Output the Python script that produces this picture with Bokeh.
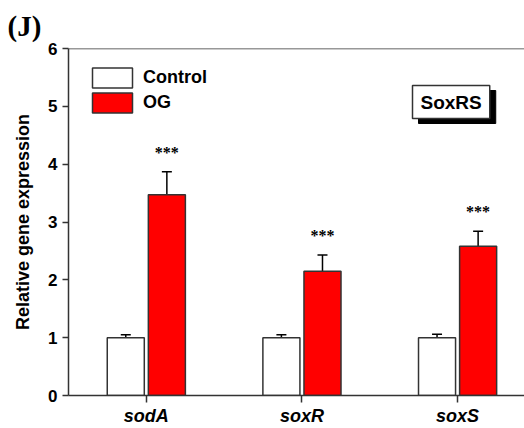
from bokeh.plotting import figure
from bokeh.models import (ColumnDataSource, Whisker, Label, Span, Legend, LegendItem,
                          FixedTicker, Range1d)
from bokeh.embed import file_html
from bokeh.resources import INLINE

# Relative expression of SoxRS regulon genes
genes = ["sodA", "soxR", "soxS"]
control_mean = [1.0, 1.0, 1.0]
control_err = [0.05, 0.05, 0.06]
og_mean = [3.47, 2.15, 2.58]
og_err = [0.40, 0.28, 0.26]
stars = ["***", "***", "***"]
yticks = [0, 1, 2, 3, 4, 5, 6]

centers = [i + 0.5 for i in range(len(genes))]
off = 0.132
bw = 0.238

ctrl = ColumnDataSource(dict(
    x=[c - off for c in centers], top=control_mean,
    lo=[m - e for m, e in zip(control_mean, control_err)],
    hi=[m + e for m, e in zip(control_mean, control_err)]))
og = ColumnDataSource(dict(
    x=[c + off for c in centers], top=og_mean,
    lo=[m - e for m, e in zip(og_mean, og_err)],
    hi=[m + e for m, e in zip(og_mean, og_err)],
    sy=[m + e + 0.34 for m, e in zip(og_mean, og_err)],
    st=stars))

p = figure(width=524, height=428, output_backend="svg", toolbar_location=None,
           x_range=Range1d(0, 2.93), y_range=Range1d(0, 6),
           min_border_left=68, min_border_right=0, min_border_top=48,
           min_border_bottom=33)
p.outline_line_color = None
p.grid.visible = False
p.background_fill_color = "white"

FONT = "Liberation Sans"

# panel tag in the upper-left corner
p.title.text = "(J)"
p.title.text_font = "Liberation Serif"
p.title.text_font_style = "bold"
p.title.text_font_size = "29px"
p.title.text_color = "black"
p.title.align = "left"
p.title.offset = -61
p.title.standoff = 13

r_ctrl = p.vbar(x="x", top="top", width=bw, source=ctrl, fill_color="white",
                line_color="#333333", line_width=1.5)
r_og = p.vbar(x="x", top="top", width=bw, source=og, fill_color="#ff0000",
              line_color="#333333", line_width=1.5)

for src in (ctrl, og):
    w = Whisker(source=src, base="x", lower="lo", upper="hi",
                line_color="black", line_width=1.5)
    w.upper_head.size = 10
    w.lower_head.size = 10
    w.upper_head.line_width = 1.5
    w.lower_head.line_width = 1.5
    p.add_layout(w)

p.text(x="x", y="sy", text="st", source=og, text_align="center",
       text_baseline="middle", text_font_size="16px", text_font_style="bold",
       text_font=FONT, text_color="black")

# top frame line
p.add_layout(Span(location=6, dimension="width", line_color="#333333", line_width=1.5))

# axes
p.yaxis.ticker = FixedTicker(ticks=yticks)
p.yaxis.minor_tick_line_color = None
p.yaxis.major_tick_in = 0
p.yaxis.major_tick_out = 6
p.yaxis.axis_label = "Relative gene expression"
p.yaxis.axis_label_text_font = FONT
p.yaxis.axis_label_text_font_style = "bold"
p.yaxis.axis_label_text_font_size = "18px"
p.yaxis.major_label_text_font = FONT
p.yaxis.major_label_text_font_style = "bold"
p.yaxis.major_label_text_font_size = "17px"
p.yaxis.axis_label_standoff = 12

p.xaxis.ticker = FixedTicker(ticks=centers)
p.xaxis.major_label_overrides = {c: g for c, g in zip(centers, genes)}
p.xaxis.minor_tick_line_color = None
p.xaxis.major_tick_in = 0
p.xaxis.major_tick_out = 7
p.xaxis.major_label_text_font = FONT
p.xaxis.major_label_text_font_style = "bold italic"
p.xaxis.major_label_text_font_size = "18px"
p.xaxis.major_label_standoff = 3

for ax in (p.xaxis[0], p.yaxis[0]):
    ax.axis_line_color = "#333333"
    ax.axis_line_width = 1.5
    ax.major_tick_line_color = "#333333"
    ax.major_tick_line_width = 1.5
    ax.major_label_text_color = "black"
    ax.axis_label_text_color = "black"

legend = Legend(items=[LegendItem(label="Control", renderers=[r_ctrl]),
                       LegendItem(label="OG", renderers=[r_og])],
                location=(19, 280), glyph_width=50, glyph_height=25,
                label_text_font=FONT, label_text_font_style="bold",
                label_text_font_size="18px", label_text_color="black",
                border_line_color=None, background_fill_alpha=0,
                spacing=0, padding=0, label_standoff=6, margin=0)
p.add_layout(legend)

# gene-group tag with drop shadow
shadow = Label(x=350, y=272, x_units="screen", y_units="screen", text="SoxRS",
               text_font=FONT, text_font_style="bold", text_font_size="19px",
               text_color="black", background_fill_color="black",
               border_line_color="black", padding=(8, 6))
tag = Label(x=344, y=277, x_units="screen", y_units="screen", text="SoxRS",
            text_font=FONT, text_font_style="bold", text_font_size="19px",
            text_color="black", background_fill_color="white",
            border_line_color="#333333", border_line_width=1.5, padding=(8, 6))
p.add_layout(shadow)
p.add_layout(tag)

open("out.html", "w").write(file_html(p, INLINE))
